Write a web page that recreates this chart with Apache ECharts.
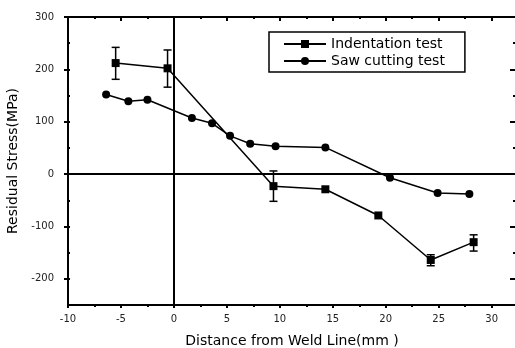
<!DOCTYPE html>
<html><head><meta charset="utf-8">
<script src="https://cdn.jsdelivr.net/npm/echarts@6/dist/echarts.min.js"></script>
<style>html,body{margin:0;padding:0;background:#fff}#c{width:515px;height:348px}</style>
</head><body><div id="c"></div>
<script>
// ---- data ----
const indentX   = [-5.5, -0.6, 9.4, 14.3, 19.3, 24.25, 28.3];
const indentY   = [212, 202, -23, -29, -79, -164, -130];
const indentLo  = [181, 166, -52, null, null, -175, -147];
const indentHi  = [242, 237, 6, null, null, -154, -116];
const sawX      = [-6.4, -4.3, -2.5, 1.7, 3.6, 5.3, 7.2, 9.6, 14.3, 20.4, 24.9, 27.9];
const sawY      = [152, 139, 142, 107, 97, 73, 58, 53, 51, -7, -36, -38];
const xTicks    = [-10, -5, 0, 5, 10, 15, 20, 25, 30];
const yTickLabels = [-200, -100, 0, 100, 200, 300];
const seriesNames = ['Indentation test', 'Saw cutting test'];
const xName = 'Distance from Weld Line(mm )';
const yName = 'Residual Stress(MPa)';

const font = 'DejaVu Sans, sans-serif';
const chart = echarts.init(document.getElementById('c'), null, {renderer: 'canvas'});

const indentData = indentX.map((x, i) => [x, indentY[i]]);
const sawData = sawX.map((x, i) => [x, sawY[i]]);
const errData = indentX.map((x, i) => [x, indentLo[i], indentHi[i]]).filter(d => d[1] !== null);

const XMIN = -10, XMAX = 32.3, YMIN = -250, YMAX = 300;
const axisLineStyle = {color: '#000', width: 2};

chart.setOption({
  animation: false,
  backgroundColor: '#fff',
  grid: {left: 68, top: 17, right: -1, bottom: 43, containLabel: false, outerBoundsMode: 'none'},
  legend: {
    orient: 'vertical', left: 269, top: 32,
    padding: [5, 20, 4, 14], itemGap: 3,
    itemWidth: 42, itemHeight: 10,
    borderColor: '#000', borderWidth: 1.5, backgroundColor: '#fff',
    textStyle: {fontFamily: font, fontSize: 14, color: '#000'},
    data: seriesNames
  },
  xAxis: [
    {
      type: 'value', position: 'bottom', min: XMIN, max: XMAX, interval: 5,
      axisLine: {show: true, onZero: false, lineStyle: axisLineStyle},
      axisTick: {show: true, inside: false, length: 3, lineStyle: {color: '#000', width: 2}},
      minorTick: {show: true, splitNumber: 2, length: 2, lineStyle: {color: '#000', width: 2}},
      axisLabel: {show: true, margin: 9, fontFamily: font, fontSize: 10, color: '#222',
                  customValues: xTicks},
      splitLine: {show: false},
      name: xName, nameLocation: 'middle', nameGap: 29,
      nameTextStyle: {fontFamily: font, fontSize: 14, color: '#000'}
    },
    {
      type: 'value', position: 'top', min: XMIN, max: XMAX, interval: 5,
      axisLine: {show: true, onZero: false, lineStyle: axisLineStyle},
      axisTick: {show: true, inside: true, length: 4, lineStyle: {color: '#000', width: 2}},
      minorTick: {show: true, splitNumber: 2, length: 2, lineStyle: {color: '#000', width: 2}},
      axisLabel: {show: false}, splitLine: {show: false}
    }
  ],
  yAxis: [
    {
      type: 'value', position: 'left', min: YMIN, max: YMAX, interval: 50,
      axisLine: {show: true, onZero: false, lineStyle: axisLineStyle},
      axisTick: {show: true, inside: true, length: 2, lineStyle: {color: '#000', width: 2}},
      axisLabel: {show: true, margin: 14, fontFamily: font, fontSize: 10, color: '#222',
                  customValues: yTickLabels},
      splitLine: {show: false},
      name: yName, nameLocation: 'middle', nameGap: 44, nameRotate: 90,
      nameTextStyle: {fontFamily: font, fontSize: 14, color: '#000'}
    },
    {
      type: 'value', position: 'right', min: YMIN, max: YMAX, interval: 50,
      axisLine: {show: true, onZero: false, lineStyle: axisLineStyle},
      axisTick: {show: true, inside: true, length: 3, lineStyle: {color: '#000', width: 2}},
      axisLabel: {show: false}, splitLine: {show: false}
    },
    {
      type: 'value', position: 'left', min: YMIN, max: YMAX, interval: 50,
      axisLine: {show: false, onZero: false},
      axisTick: {show: true, inside: false, length: 4, customValues: yTickLabels, lineStyle: {color: '#000', width: 2}},
      axisLabel: {show: false}, splitLine: {show: false}
    },
    {
      type: 'value', position: 'right', min: YMIN, max: YMAX, interval: 50,
      axisLine: {show: false, onZero: false},
      axisTick: {show: true, inside: true, length: 6, customValues: yTickLabels, lineStyle: {color: '#000', width: 2}},
      axisLabel: {show: false}, splitLine: {show: false}
    }
  ],
  series: [
    {
      name: seriesNames[0], type: 'line', data: indentData,
      symbol: 'rect', symbolSize: 8,
      lineStyle: {color: '#000', width: 1.5}, itemStyle: {color: '#000'},
      z: 5,
      markLine: {
        silent: true, symbol: 'none', label: {show: false},
        lineStyle: {color: '#000', width: 2, type: 'solid'},
        data: [{yAxis: 0}, {xAxis: 0}]
      }
    },
    {
      name: seriesNames[1], type: 'line', data: sawData,
      symbol: 'circle', symbolSize: 8,
      lineStyle: {color: '#000', width: 1.5}, itemStyle: {color: '#000'},
      z: 5
    },
    {
      type: 'custom', data: errData, z: 4,
      renderItem: function (params, api) {
        const x = api.value(0);
        const lo = api.coord([x, api.value(1)]);
        const hi = api.coord([x, api.value(2)]);
        const w = 4;
        const st = {stroke: '#000', lineWidth: 1.5};
        return {type: 'group', children: [
          {type: 'line', shape: {x1: lo[0], y1: lo[1], x2: hi[0], y2: hi[1]}, style: st},
          {type: 'line', shape: {x1: lo[0]-w, y1: lo[1], x2: lo[0]+w, y2: lo[1]}, style: st},
          {type: 'line', shape: {x1: hi[0]-w, y1: hi[1], x2: hi[0]+w, y2: hi[1]}, style: st}
        ]};
      }
    }
  ]
});
</script></body></html>
